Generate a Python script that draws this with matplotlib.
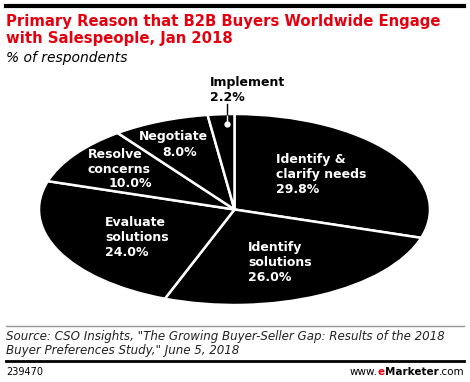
import matplotlib
matplotlib.use("agg")
import matplotlib.pyplot as plt
from matplotlib.lines import Line2D

# data
labels = ["Identify &\nclarify needs", "Identify\nsolutions", "Evaluate\nsolutions",
          "Resolve\nconcerns", "Negotiate", "Implement"]
values = [29.8, 26.0, 24.0, 10.0, 8.0, 2.2]

W, H = 470, 382
fig = plt.figure(figsize=(W / 100, H / 100), dpi=100)


def px(x, y):
    return x / W, 1 - y / H


# flattened pie: axes wider than tall, aspect left free
ax = fig.add_axes([39 / W, 1 - 305 / H, 391 / W, 191 / H])
ax.pie(values, startangle=90, counterclock=False, colors=["black"] * len(values),
       wedgeprops=dict(edgecolor="white", linewidth=1.8))
ax.set_aspect("auto")
ax.set_xlim(-1.0, 1.0)
ax.set_ylim(-1.0, 1.0)
ax.axis("off")

pct = ["%.1f%%" % v for v in values]
lab = dict(color="white", fontsize=9, fontweight="bold", va="top", linespacing=1.18)
fig.text(*px(276, 153), labels[0] + "\n" + pct[0], ha="left", **lab)
fig.text(*px(248, 241), labels[1] + "\n" + pct[1], ha="left", **lab)
fig.text(*px(105, 216), labels[2] + "\n" + pct[2], ha="left", **lab)
fig.text(*px(88, 148), labels[3], ha="left", **lab)
fig.text(*px(152, 177), pct[3], ha="right", **lab)
fig.text(*px(139, 130), labels[4], ha="left", **lab)
fig.text(*px(197, 146), pct[4], ha="right", **lab)
lab["color"] = "black"
fig.text(*px(210, 76), labels[5] + "\n" + pct[5], ha="left", **lab)

# leader for the small slice
fig.add_artist(Line2D([227 / W, 227 / W], [1 - 104 / H, 1 - 114 / H], color="black", lw=1))
fig.add_artist(Line2D([227 / W, 227 / W], [1 - 116 / H, 1 - 123 / H], color="white", lw=1))
fig.add_artist(Line2D([227 / W], [1 - 124 / H], marker="o", ms=3.5, color="white",
                      mec="white"))

# header
fig.add_artist(Line2D([6 / W, 464 / W], [1 - 6 / H, 1 - 6 / H], color="black", lw=3))
fig.text(*px(6, 14), "Primary Reason that B2B Buyers Worldwide Engage\nwith Salespeople, Jan 2018",
         color="#e4000f", fontsize=10.7, fontweight="bold", va="top", linespacing=1.2)
fig.text(*px(6, 51), "% of respondents", fontsize=10, style="italic", va="top")

# footer
fig.add_artist(Line2D([6 / W, 464 / W], [1 - 326 / H, 1 - 326 / H], color="#999999", lw=1))
fig.text(*px(6, 330), 'Source: CSO Insights, "The Growing Buyer-Seller Gap: Results of the 2018\n'
         'Buyer Preferences Study," June 5, 2018',
         fontsize=8.6, style="italic", va="top", linespacing=1.12, color="#222222")
fig.add_artist(Line2D([6 / W, 464 / W], [1 - 361 / H, 1 - 361 / H], color="black", lw=2))
fig.text(*px(6, 372), "239470", fontsize=7, va="center")

# www.eMarketer.com, built right to left
renderer = fig.canvas.get_renderer()
parts = [(".com", "normal", "black"), ("Marketer", "bold", "black"),
         ("e", "bold", "#e4000f"), ("www.", "normal", "black")]
xr = 464
for s, w, c in parts:
    t = fig.text(*px(xr, 372), s, fontsize=7.5, fontweight=w, color=c, ha="right", va="center")
    xr -= t.get_window_extent(renderer).width

fig.savefig("out.png", dpi=100)
